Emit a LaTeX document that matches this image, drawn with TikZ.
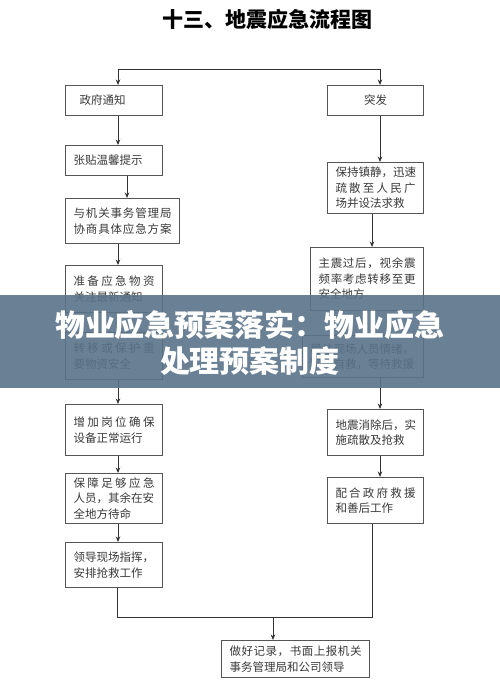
\documentclass[tikz,border=0pt]{standalone}
\usepackage{fontspec}
\setmainfont{Noto Sans CJK SC}
\newfontfamily\hei{Noto Sans CJK SC}
\newfontfamily\song{Noto Sans CJK SC}
\usetikzlibrary{arrows.meta}
\definecolor{boxc}{HTML}{555555}
\definecolor{linec}{HTML}{333333}
\definecolor{txtc}{HTML}{3A3A3A}
\definecolor{banc}{HTML}{5A7389}
\newcommand\spr[1]{\makebox[\hsize][s]{\sprB#1\relax}}
\def\sprB#1#2{#1\ifx#2\relax\else\hfil\expandafter\sprB\expandafter#2\fi}
\tikzset{
  box/.style={draw=boxc, line width=1.1pt, anchor=north west, inner xsep=8pt,
    inner ysep=0pt, align=left, font=\song\fontsize{11.5}{15.5}\selectfont, text=txtc},
  arr/.style={draw=linec, line width=1pt, -{Stealth[length=5.5pt,width=4.5pt]}},
  ln/.style={draw=linec, line width=1pt},
  bantext/.style={text=white, align=center, font=\hei\bfseries\fontsize{30}{36}\selectfont},
  titletext/.style={text=black, font=\hei\bfseries\fontsize{21}{25}\selectfont}
}
\begin{document}
\begin{tikzpicture}[x=1pt,y=-1pt]
\fill[white] (0,0) rectangle (500,686);
\useasboundingbox (0,0) rectangle (500,686);
\node[titletext] (title) at (267,19) {十三、地震应急流程图};
% left column
\node[box, text width=81pt, minimum height=30pt] (zf) at (65,85) {\hspace*{6pt}政府通知};
\node[box, text width=81pt, minimum height=30pt] (zt) at (65,145) {张贴温馨提示};
\node[box, text width=98pt, minimum height=45pt] (yj) at (65,198) {\spr{与机关事务管理局}\\\spr{协商具体应急方案}};
\node[box, text width=81pt, minimum height=47pt] (zb) at (65,265) {\spr{准备应急物资}\\关注最新通知};
\node[box, text width=81pt, minimum height=47pt] (zy) at (65,332) {\spr{转移或保护重}\\要物资安全};
\node[box, text width=81pt, minimum height=51pt] (zj) at (65,404) {\spr{增加岗位确保}\\设备正常运行};
\node[box, text width=81pt, minimum height=50pt] (bz) at (65,473) {\spr{保障足够应急}\\人员，其余在安\\全地方待命};
\node[box, text width=81pt, minimum height=45pt] (ld) at (65,542) {领导现场指挥，\\安排抢救工作};
% right column
\node[box, text width=80pt, minimum height=30pt, align=center] (tf) at (327,85) {突发};
\node[box, text width=80pt, minimum height=51pt] (bc) at (327,162) {保持镇静，迅速\\\spr{疏散至人民广}\\场并设法求救};
\node[box, text width=97pt, minimum height=63pt] (zz) at (310,247) {\spr{主震过后，视余震}\\\spr{频率考虑转移至更}\\安全地方};
\node[box, text width=105pt, minimum height=42pt] (wz) at (302,335) {稳住现场人员情绪，\\积极自救，等待救援};
\node[box, text width=80pt, minimum height=46pt] (dz) at (327,409) {地震消除后，实\\施疏散及抢救};
\node[box, text width=80pt, minimum height=46pt] (ph) at (327,477) {\spr{配合政府救援}\\和善后工作};
% bottom
\node[box, text width=132pt, minimum height=37pt] (zh) at (221,640) {\spr{做好记录，书面上报机关}\\事务管理局和公司领导};
% connectors
\coordinate (tl) at (118,69);
\coordinate (tr) at (380,69);
\coordinate (cl2) at (127,0);
\coordinate (cr2) at (372,0);
\draw[ln] (tl) -- (tr);
\draw[arr] (tl) -- (tl |- zf.north);
\draw[arr] (tr) -- (tr |- tf.north);
\draw[arr] (zf.south -| tl) -- (zt.north -| tl);
\draw[arr] (zt.south -| cl2) -- (yj.north -| cl2);
\draw[arr] (yj.south -| tl) -- (zb.north -| tl);
\draw[arr] (zb.south -| tl) -- (zy.north -| tl);
\draw[arr] (zy.south -| tl) -- (zj.north -| tl);
\draw[arr] (zj.south -| tl) -- (bz.north -| tl);
\draw[arr] (bz.south -| tl) -- (ld.north -| tl);
\draw[arr] (tf.south -| tr) -- (bc.north -| tr);
\draw[arr] (bc.south -| cr2) -- (zz.north -| cr2);
\draw[arr] (zz.south -| cr2) -- (wz.north -| cr2);
\draw[arr] (wz.south -| tr) -- (dz.north -| tr);
\draw[arr] (dz.south -| tr) -- (ph.north -| tr);
\coordinate (jl) at (117,617);
\coordinate (jr) at (372,617);
\coordinate (jm) at (273,617);
\draw[ln] (ld.south -| jl) -- (jl) -- (jr) -- (ph.south -| jr);
\draw[arr] (jm) -- (jm |- zh.north);
% banner
\fill[banc, opacity=0.9] (0,295) rectangle (500,388);
\node[bantext] (ban) at (250,343) {物业应急预案落实：物业应急\\处理预案制度};
\end{tikzpicture}
\end{document}
